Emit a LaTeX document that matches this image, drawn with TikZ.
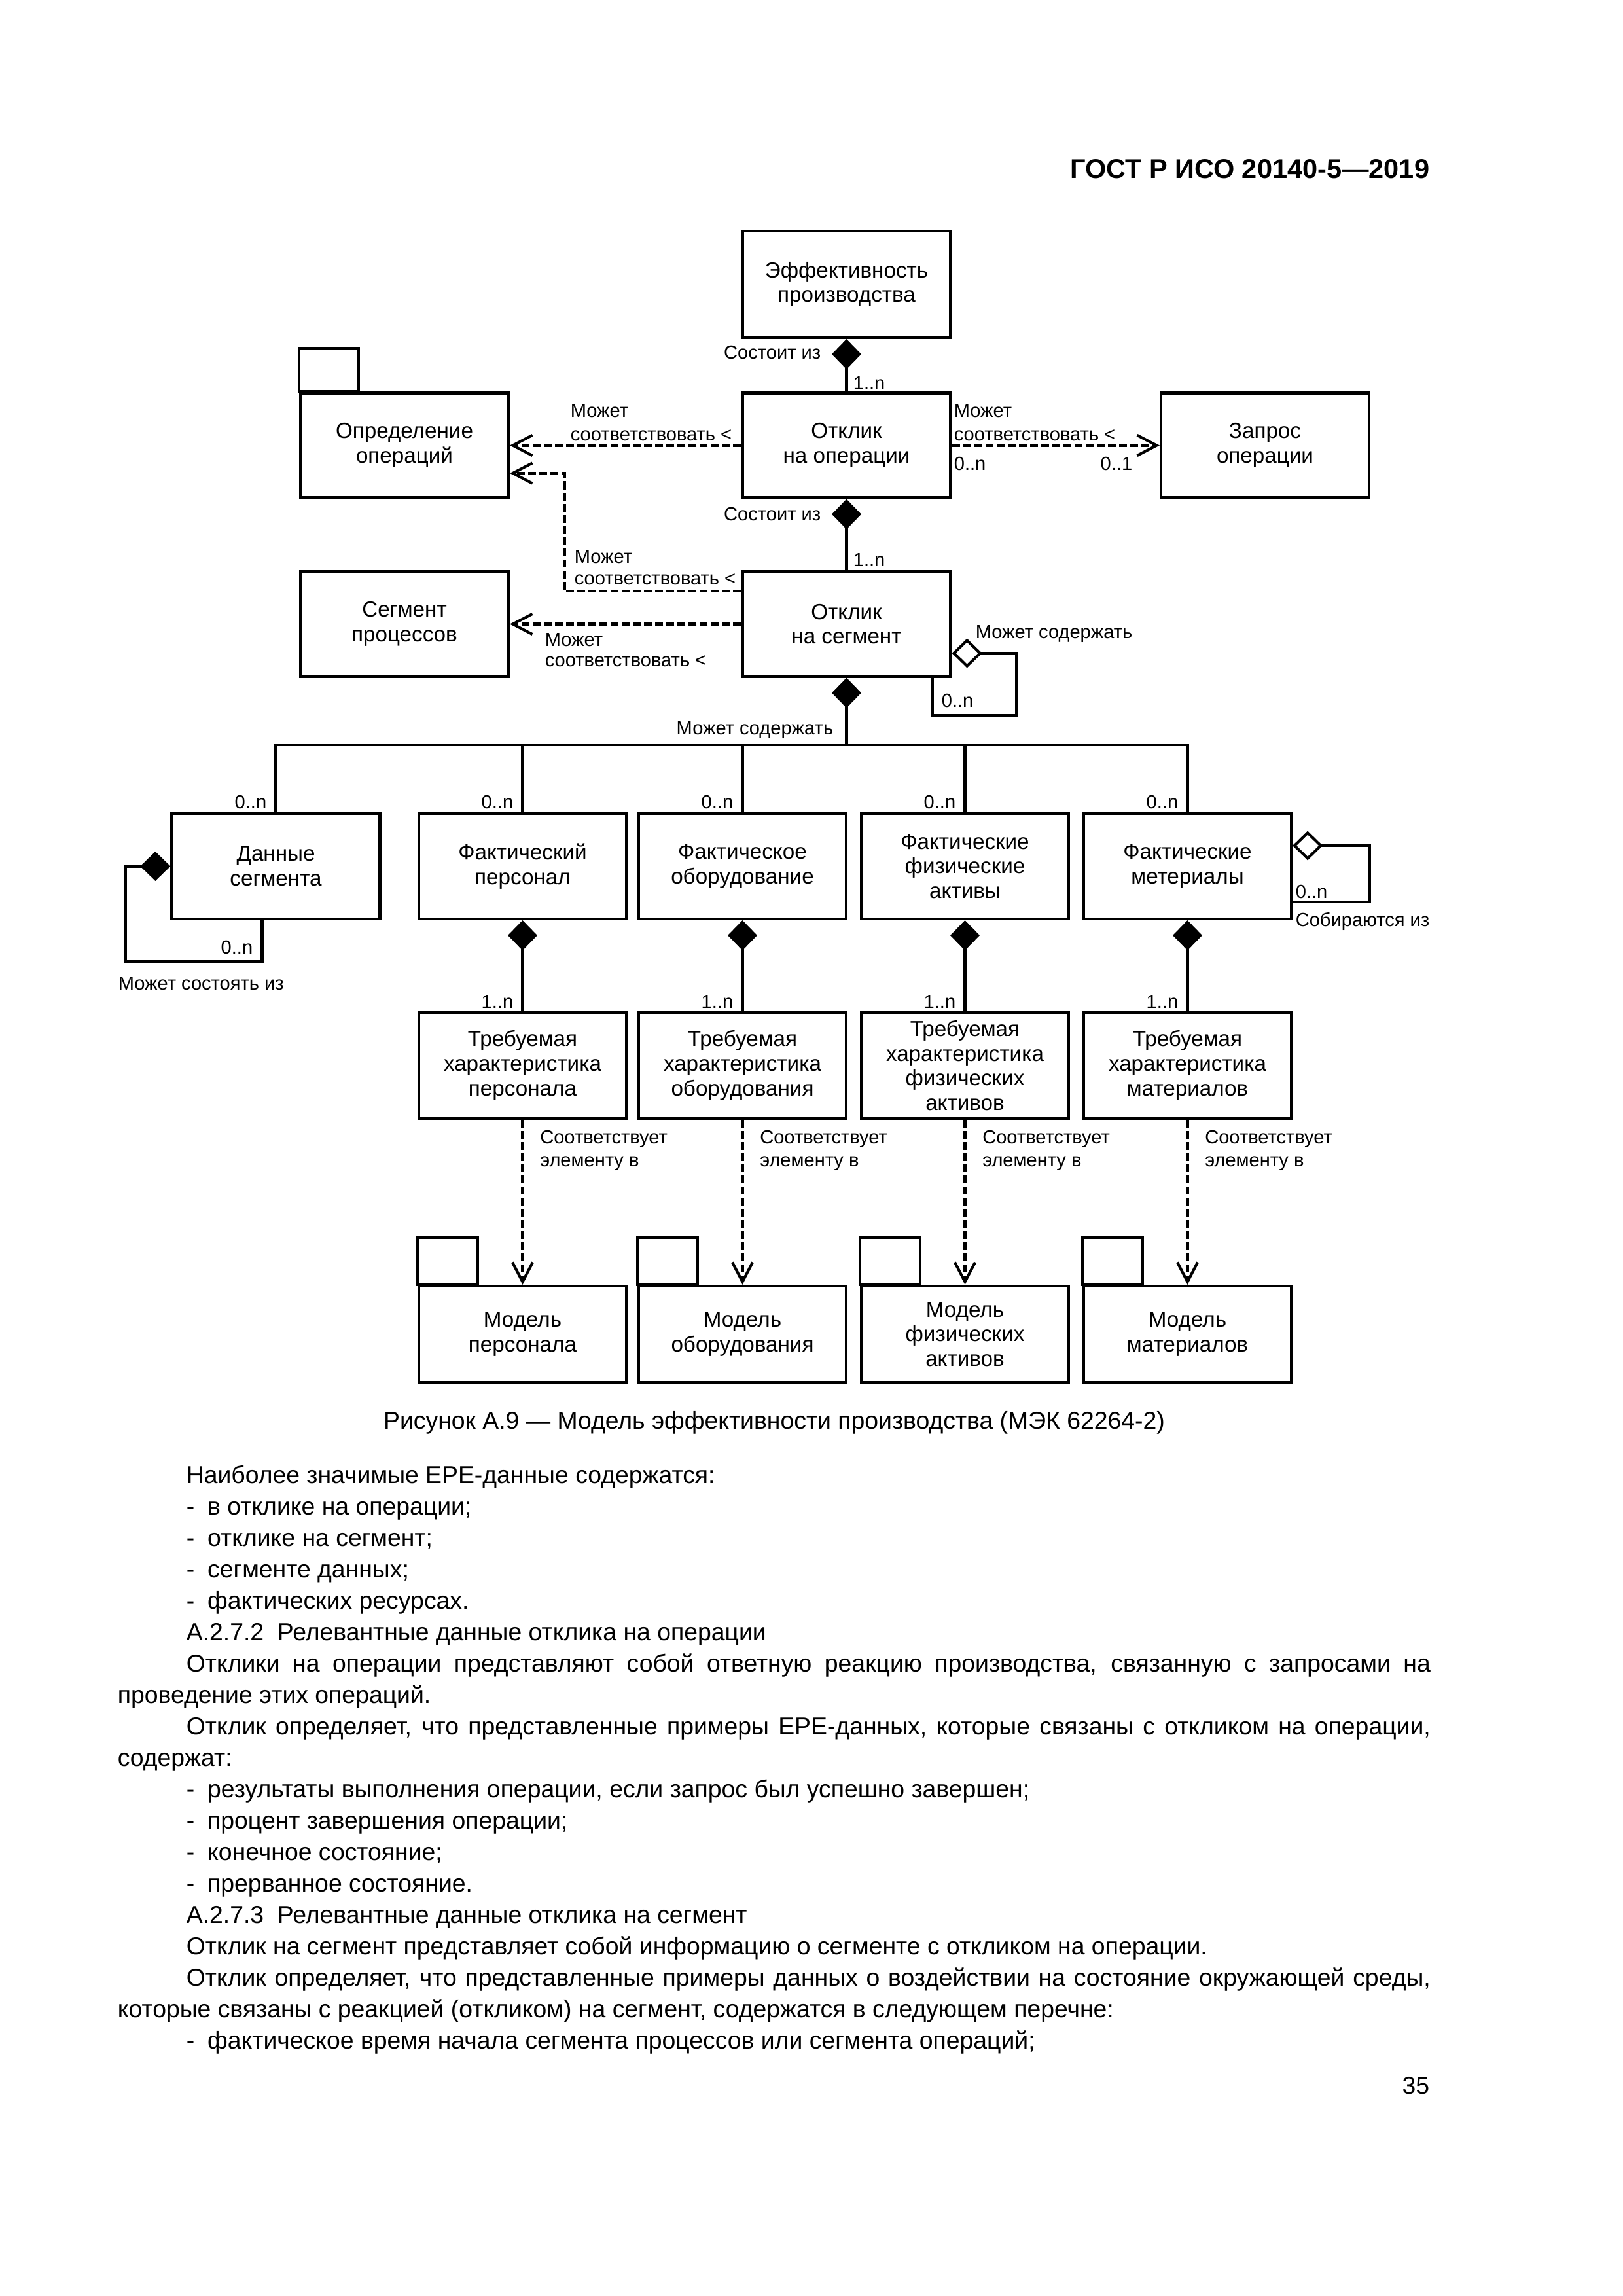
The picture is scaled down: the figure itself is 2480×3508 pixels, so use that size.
\documentclass[tikz,border=0pt]{standalone}
\usepackage{fontspec}
\setmainfont{Liberation Sans}
\usetikzlibrary{arrows.meta,calc}
\newlength\pxl
\setlength\pxl{0.0846774mm}
\newcommand\lidash{-\hspace{4.8pt}}
\begin{document}
\begin{tikzpicture}[x=0.0846774mm,y=-0.0846774mm,
  ln/.style={line width=1pt},
  box/.style={draw, line width=1pt, inner sep=0pt, align=center,
    font=\fontsize{8}{9.1}\selectfont, minimum width=318\pxl, minimum height=160\pxl},
  lab/.style={inner sep=0pt, font=\fontsize{7}{8}\selectfont},
  comp/.style={ln, {Diamond[length=11.1pt, width=10.8pt]}-},
  agg/.style={ln, {Diamond[open, fill=white, length=11.1pt, width=10.8pt]}-},
  dep/.style={ln, dash pattern=on 2.9pt off 1.2pt, -{Straight Barb[length=7.2pt, width=7.5pt]}},
  body/.style={inner sep=0pt, anchor=base west, font=\fontsize{9}{11}\selectfont},
]
\fill[white] (0,0) rectangle (2480,3508);
\useasboundingbox (0,0) rectangle (2480,3508);

% header
\node[inner sep=0pt, anchor=base east, font=\bfseries\fontsize{10}{12}\selectfont] (hdr) at (2185,272) {ГОСТ Р ИСО 20140-5—2019};

% ---- boxes
\node[box, minimum height=163\pxl] (eff) at (1293.5,434.5) {Эффективность\\производства};
\node[box] (opresp) at (1293.5,680.5) {Отклик\\на операции};
\node[box] (opdef) at (618,680.5) {Определение\\операций};
\node[box] (req) at (1933,680.5) {Запрос\\операции};
\node[box] (segr) at (1293.5,953.5) {Отклик\\на сегмент};
\node[box] (segp) at (618,953.5) {Сегмент\\процессов};

\node[box, minimum height=161\pxl] (dseg) at (421.5,1323.5) {Данные\\сегмента};
\node[box, minimum width=317\pxl, minimum height=161\pxl] (apers) at (798.5,1323.5) {Фактический\\персонал};
\node[box, minimum width=317\pxl, minimum height=161\pxl] (aequip) at (1134.5,1323.5) {Фактическое\\оборудование};
\node[box, minimum width=317\pxl, minimum height=161\pxl] (aphys) at (1474.5,1323.5) {Фактические\\физические\\активы};
\node[box, minimum width=317\pxl, minimum height=161\pxl] (amat) at (1814.5,1323.5) {Фактические\\метериалы};

\node[box, minimum width=317\pxl, minimum height=162\pxl] (rpers) at (798.5,1628) {Требуемая\\характеристика\\персонала};
\node[box, minimum width=317\pxl, minimum height=162\pxl] (requip) at (1134.5,1628) {Требуемая\\характеристика\\оборудования};
\node[box, minimum width=317\pxl, minimum height=162\pxl] (rphys) at (1474.5,1628) {Требуемая\\характеристика\\физических\\активов};
\node[box, minimum width=317\pxl, minimum height=162\pxl] (rmat) at (1814.5,1628) {Требуемая\\характеристика\\материалов};

\node[box, minimum width=317\pxl, minimum height=147\pxl] (mpers) at (798.5,2038.5) {Модель\\персонала};
\node[box, minimum width=317\pxl, minimum height=147\pxl] (mequip) at (1134.5,2038.5) {Модель\\оборудования};
\node[box, minimum width=317\pxl, minimum height=147\pxl] (mphys) at (1474.5,2038.5) {Модель\\физических\\активов};
\node[box, minimum width=317\pxl, minimum height=147\pxl] (mmat) at (1814.5,2038.5) {Модель\\материалов};

% package tabs
\draw[ln] (opdef.north west) rectangle ++(91,-66);
\draw[ln] (mpers.north west) rectangle ++(92,-72);
\draw[ln] (mequip.north west) rectangle ++(92,-72);
\draw[ln] (mphys.north west) rectangle ++(92,-72);
\draw[ln] (mmat.north west) rectangle ++(92,-72);

% ---- connectors
\draw[comp] (eff.south) -- (opresp.north);
\draw[comp] (opresp.south) -- (segr.north);
\draw[dep] (opresp.west) -- (opdef.east);
\draw[dep] (opresp.east) -- (req.west);
\draw[dep] ([yshift=50.5\pxl]segr.west) -- ++(-270,0) |- ([yshift=-42.5\pxl]opdef.east);
\draw[dep] (segr.west) -- (segp.east);
\draw[agg] ([yshift=-44.5\pxl]segr.east) -| ++(98,95) -| ([xshift=292\pxl]segr.south west);

\coordinate (busL) at (421.5,1138);
\coordinate (busR) at (1814.5,1138);
\draw[comp] (segr.south) -- (segr.south |- busL);
\draw[ln] (dseg.north) -- (dseg.north |- busL) -- (amat.north |- busR) -- (amat.north);
\draw[ln] (apers.north |- busL) -- (apers.north);
\draw[ln] (aequip.north |- busL) -- (aequip.north);
\draw[ln] (aphys.north |- busL) -- (aphys.north);

\draw[comp] (dseg.west) -| ++(-69,145) -| ([xshift=140\pxl]dseg.south west);
\draw[agg] ([yshift=31.5\pxl]amat.east) -| ++(118,86) -- ([yshift=-54.5\pxl]amat.east);

\draw[comp] (apers.south) -- (rpers.north);
\draw[comp] (aequip.south) -- (requip.north);
\draw[comp] (aphys.south) -- (rphys.north);
\draw[comp] (amat.south) -- (rmat.north);

\draw[dep] (rpers.south) -- (mpers.north);
\draw[dep] (requip.south) -- (mequip.north);
\draw[dep] (rphys.south) -- (mphys.north);
\draw[dep] (rmat.south) -- (mmat.north);

% ---- labels
\node[lab, anchor=base east] (l1) at (1255,548) {Состоит из};
\node[lab, anchor=base west] (l2) at (1303,595) {1..n};
\node[lab, anchor=base west] (l3) at (871,637) {Может};
\node[lab, anchor=base west] (l4) at (871,673) {соответствовать <};
\node[lab, anchor=base west] (l5) at (1457,637) {Может};
\node[lab, anchor=base west] (l6) at (1457,673) {соответствовать <};
\node[lab, anchor=base west] (l7) at (1457,718) {0..n};
\node[lab, anchor=base east] (l8) at (1731,718) {0..1};
\node[lab, anchor=base east] (l9) at (1255,795) {Состоит из};
\node[lab, anchor=base west] (l10) at (1303,865) {1..n};
\node[lab, anchor=base west] (l11) at (877,860) {Может};
\node[lab, anchor=base west] (l12) at (877,893) {соответствовать <};
\node[lab, anchor=base west] (l13) at (832,987) {Может};
\node[lab, anchor=base west] (l14) at (832,1018) {соответствовать <};
\node[lab, anchor=base west] (l15) at (1490,975) {Может содержать};
\node[lab, anchor=base west] (l16) at (1438,1080) {0..n};
\node[lab, anchor=base east] (l17) at (1274,1122) {Может содержать};
\node[lab, anchor=base east] (l18) at (408,1235) {0..n};
\node[lab, anchor=base east] (l19) at (785,1235) {0..n};
\node[lab, anchor=base east] (l20) at (1121,1235) {0..n};
\node[lab, anchor=base east] (l21) at (1461,1235) {0..n};
\node[lab, anchor=base east] (l22) at (1801,1235) {0..n};
\node[lab, anchor=base east] (l23) at (387,1457) {0..n};
\node[lab, anchor=base west] (l24) at (180,1512) {Может состоять из};
\node[lab, anchor=base west] (l25) at (1979,1372) {0..n};
\node[lab, anchor=base west] (l26) at (1979,1415) {Собираются из};
\node[lab, anchor=base east] (l27) at (785,1540) {1..n};
\node[lab, anchor=base east] (l28) at (1121,1540) {1..n};
\node[lab, anchor=base east] (l29) at (1461,1540) {1..n};
\node[lab, anchor=base east] (l30) at (1801,1540) {1..n};
\node[lab, anchor=base west] (l31) at (824.5,1747) {Соответствует};
\node[lab, anchor=base west] (l32) at (824.5,1782) {элементу в};
\node[lab, anchor=base west] (l33) at (1160.5,1747) {Соответствует};
\node[lab, anchor=base west] (l34) at (1160.5,1782) {элементу в};
\node[lab, anchor=base west] (l35) at (1500.5,1747) {Соответствует};
\node[lab, anchor=base west] (l36) at (1500.5,1782) {элементу в};
\node[lab, anchor=base west] (l37) at (1840.5,1747) {Соответствует};
\node[lab, anchor=base west] (l38) at (1840.5,1782) {элементу в};

% ---- caption and body text
\node[body, anchor=base] (cap) at (1183,2183) {Рисунок А.9 — Модель эффективности производства (МЭК 62264-2)};
\node[body] (t1) at (284,2266) {Наиболее значимые EPE-данные содержатся:};
\node[body] (t2) at (284,2314) {\lidash в отклике на операции;};
\node[body] (t3) at (284,2362) {\lidash отклике на сегмент;};
\node[body] (t4) at (284,2410) {\lidash сегменте данных;};
\node[body] (t5) at (284,2458) {\lidash фактических ресурсах.};
\node[body] (t6) at (284,2506) {А.2.7.2\ \ Релевантные данные отклика на операции};
\node[body] (t7) at (284,2554) {\makebox[1901\pxl][s]{Отклики на операции представляют собой ответную реакцию производства, связанную с запросами на}};
\node[body] (t8) at (179,2602) {проведение этих операций.};
\node[body] (t9) at (284,2650) {\makebox[1901\pxl][s]{Отклик определяет, что представленные примеры EPE-данных, которые связаны с откликом на операции,}};
\node[body] (t10) at (179,2698) {содержат:};
\node[body] (t11) at (284,2746) {\lidash результаты выполнения операции, если запрос был успешно завершен;};
\node[body] (t12) at (284,2794) {\lidash процент завершения операции;};
\node[body] (t13) at (284,2842) {\lidash конечное состояние;};
\node[body] (t14) at (284,2890) {\lidash прерванное состояние.};
\node[body] (t15) at (284,2938) {А.2.7.3\ \ Релевантные данные отклика на сегмент};
\node[body] (t16) at (284,2986) {Отклик на сегмент представляет собой информацию о сегменте с откликом на операции.};
\node[body] (t17) at (284,3034) {\makebox[1901\pxl][s]{Отклик определяет, что представленные примеры данных о воздействии на состояние окружающей среды,}};
\node[body] (t18) at (179,3082) {которые связаны с реакцией (откликом) на сегмент, содержатся в следующем перечне:};
\node[body] (t19) at (284,3130) {\lidash фактическое время начала сегмента процессов или сегмента операций;};
\node[body, anchor=base east] (pg) at (2185,3199) {35};
\end{tikzpicture}
\end{document}
